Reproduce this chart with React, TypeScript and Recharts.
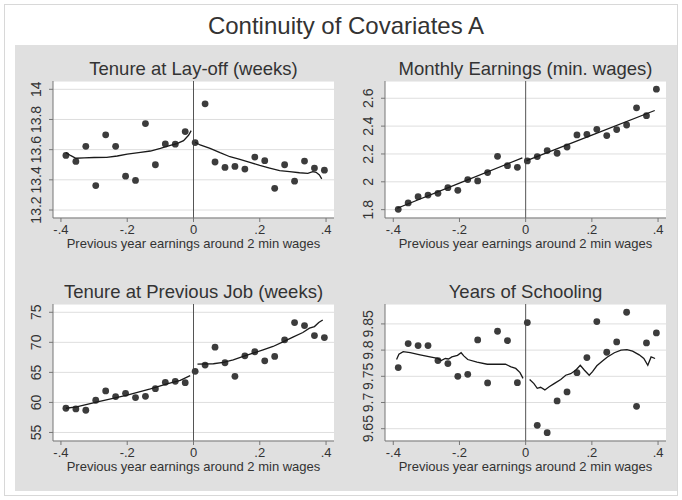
import { ScatterChart, Scatter, XAxis, YAxis, CartesianGrid, ReferenceLine } from 'recharts'

// bin midpoints (previous year earnings, centred on 2 min wages)
const bins = [
  -0.385, -0.355, -0.325, -0.295, -0.265, -0.235, -0.205, -0.175, -0.145, -0.115, -0.085, -0.055, -0.025,
  0.005, 0.035, 0.065, 0.095, 0.125, 0.155, 0.185, 0.215, 0.245, 0.275, 0.305, 0.335, 0.365, 0.395,
]
const xTicks = [-0.4, -0.2, 0, 0.2, 0.4]

const layoffY = [
  13.562, 13.522, 13.622, 13.362, 13.698, 13.622, 13.424, 13.396, 13.773, 13.5, 13.638, 13.636, 13.72,
  13.647, 13.904, 13.518, 13.482, 13.489, 13.471, 13.551, 13.527, 13.344, 13.5, 13.391, 13.524, 13.478, 13.464,
]
const layoffTicks = [13.2, 13.4, 13.6, 13.8, 14]
const layoffFitL = [
  [-0.385, 13.58], [-0.37, 13.56], [-0.355, 13.543], [-0.33, 13.545], [-0.3, 13.548], [-0.262, 13.549],
  [-0.23, 13.558], [-0.2, 13.571], [-0.16, 13.582], [-0.13, 13.591], [-0.1, 13.608], [-0.07, 13.628],
  [-0.05, 13.64], [-0.03, 13.66], [-0.015, 13.695], [-0.007, 13.726],
]
const layoffFitR = [
  [0.005, 13.649], [0.02, 13.631], [0.05, 13.609], [0.08, 13.58], [0.11, 13.553], [0.14, 13.536],
  [0.17, 13.516], [0.2, 13.496], [0.23, 13.478], [0.26, 13.461], [0.29, 13.454], [0.32, 13.447],
  [0.345, 13.443], [0.36, 13.454], [0.37, 13.45], [0.38, 13.432], [0.387, 13.406],
]

const earningsY = [
  1.802, 1.848, 1.893, 1.905, 1.917, 1.958, 1.939, 2.016, 2.006, 2.066, 2.183, 2.116, 2.104,
  2.15, 2.181, 2.224, 2.205, 2.25, 2.337, 2.341, 2.377, 2.332, 2.375, 2.408, 2.531, 2.475, 2.665,
]
const earningsTicks = [1.8, 2, 2.2, 2.4, 2.6]
const earningsFitL = [[-0.388, 1.81], [-0.2, 1.99], [-0.01, 2.172]]
const earningsFitR = [[0.003, 2.152], [0.2, 2.335], [0.39, 2.512]]

const prevJobY = [
  59.03, 58.92, 58.7, 60.36, 61.91, 60.97, 61.52, 60.8, 61.02, 62.29, 63.34, 63.51, 63.29,
  65.17, 66.22, 69.2, 66.6, 64.34, 67.76, 68.43, 66.93, 67.65, 70.41, 73.29, 72.79, 71.13, 70.8,
]
const prevJobTicks = [55, 60, 65, 70, 75]
const prevJobFitL = [
  [-0.385, 59.03], [-0.353, 59.25], [-0.283, 60.19], [-0.203, 61.19], [-0.13, 62.24], [-0.08, 63.07],
  [-0.04, 63.67], [-0.01, 64.45],
]
const prevJobFitR = [
  [0.012, 66.38], [0.06, 66.44], [0.09, 66.66], [0.12, 67.1], [0.15, 67.65], [0.18, 68.2], [0.21, 68.76],
  [0.24, 69.31], [0.27, 70.08], [0.3, 70.86], [0.33, 71.63], [0.35, 72.35], [0.365, 72.62], [0.378, 73.29],
  [0.39, 73.73],
]

const schoolingY = [
  9.7666, 9.8124, 9.8086, 9.8086, 9.78, 9.7742, 9.75, 9.7538, 9.8194, 9.7373, 9.836, 9.8182, 9.7379,
  9.8525, 9.6564, 9.6424, 9.7029, 9.7201, 9.757, 9.7857, 9.8545, 9.7959, 9.8156, 9.8723, 9.6927, 9.8137, 9.8328,
]
const schoolingTicks = [9.65, 9.7, 9.75, 9.8, 9.85]
const schoolingFitL = [
  [-0.39, 9.782], [-0.383, 9.792], [-0.37, 9.797], [-0.349, 9.795], [-0.319, 9.791], [-0.289, 9.787],
  [-0.266, 9.784], [-0.255, 9.78], [-0.243, 9.784], [-0.233, 9.783], [-0.223, 9.787], [-0.206, 9.79],
  [-0.195, 9.795], [-0.187, 9.789], [-0.175, 9.782], [-0.147, 9.777], [-0.116, 9.773], [-0.096, 9.773],
  [-0.076, 9.773], [-0.061, 9.773], [-0.044, 9.768], [-0.03, 9.765], [-0.017, 9.757], [-0.008, 9.746],
]
const schoolingFitR = [
  [0.012, 9.744], [0.025, 9.736], [0.035, 9.727], [0.045, 9.729], [0.058, 9.724], [0.071, 9.73],
  [0.086, 9.736], [0.106, 9.744], [0.121, 9.752], [0.136, 9.755], [0.152, 9.762], [0.165, 9.771],
  [0.177, 9.762], [0.192, 9.752], [0.202, 9.759], [0.215, 9.77], [0.232, 9.779], [0.247, 9.787],
  [0.268, 9.795], [0.288, 9.8], [0.306, 9.801], [0.323, 9.798], [0.343, 9.791], [0.357, 9.784],
  [0.369, 9.771], [0.379, 9.787], [0.391, 9.784],
]

const FONT = '"Liberation Sans", Arial, Helvetica, sans-serif'
const TEXT = '#333'
const YW = 40

const fmtX = (v: number) => (v === 0 ? '0' : String(v).replace('0.', '.'))
const toPts = (arr: number[][]) => arr.map(([x, y]) => ({ x, y }))

function YTick(props: any) {
  const { x, y, payload } = props
  const tx = x - 8
  return (
    <text x={tx} y={y} transform={`rotate(-90, ${tx}, ${y})`} textAnchor="middle" fontSize={14} fill={TEXT} fontFamily={FONT}>
      {String(payload.value)}
    </text>
  )
}

const Dot = (props: any) => <circle cx={props.cx} cy={props.cy} r={3.4} fill="#3c3c3c" />
const NoDot = () => <g />

interface PanelProps {
  title: string
  left: number
  top: number
  w: number
  h: number
  xDomain: number[]
  yDomain: number[]
  yTicks: number[]
  ys: number[]
  fitL: number[][]
  fitR: number[][]
}

function Panel({ title, left, top, w, h, xDomain, yDomain, yTicks, ys, fitL, fitR }: PanelProps) {
  const dots = bins.map((x, i) => ({ x, y: ys[i] }))
  return (
    <>
      <div style={{ position: 'absolute', left, top: top - 20.7, width: w, textAlign: 'center', fontSize: 18.5, lineHeight: '18.5px', color: TEXT, whiteSpace: 'nowrap' }}>
        {title}
      </div>
      <div style={{ position: 'absolute', left: left - YW, top, width: w + YW, height: h + 30 }}>
        <ScatterChart width={w + YW} height={h + 30} margin={{ top: 0, right: 0, bottom: 0, left: 0 }}>
          <CartesianGrid vertical={false} stroke="#dedede" fill="#ffffff" fillOpacity={1} />
          <XAxis
            type="number"
            dataKey="x"
            domain={xDomain}
            ticks={xTicks}
            interval={0}
            allowDataOverflow
            height={30}
            tickFormatter={fmtX}
            tickSize={4}
            tickMargin={3}
            stroke="#777"
            tick={{ fontSize: 13, fill: TEXT, fontFamily: FONT }}
          />
          <YAxis
            type="number"
            dataKey="y"
            domain={yDomain}
            ticks={yTicks}
            interval={0}
            allowDataOverflow
            width={YW}
            tickSize={4}
            tickMargin={0}
            stroke="#777"
            tick={<YTick />}
          />
          <ReferenceLine x={0} stroke="#555" strokeWidth={1} />
          <Scatter data={dots} shape={<Dot />} isAnimationActive={false} />
          <Scatter data={toPts(fitL)} line={{ stroke: '#1a1a1a', strokeWidth: 1.3 }} lineType="joint" shape={<NoDot />} isAnimationActive={false} />
          <Scatter data={toPts(fitR)} line={{ stroke: '#1a1a1a', strokeWidth: 1.3 }} lineType="joint" shape={<NoDot />} isAnimationActive={false} />
        </ScatterChart>
      </div>
      <div style={{ position: 'absolute', left, top: h + top + 19.3, width: w, textAlign: 'center', fontSize: 13, lineHeight: '13px', color: TEXT, whiteSpace: 'nowrap' }}>
        Previous year earnings around 2 min wages
      </div>
    </>
  )
}

export default function App() {
  return (
    <div style={{ position: 'absolute', left: 0, top: 0, width: 682, height: 500, background: '#fff', fontFamily: FONT, overflow: 'hidden' }}>
      <div style={{ position: 'absolute', left: 4, top: 4, width: 674, height: 492, border: '1px solid #d8d8d8', boxSizing: 'border-box' }} />
      <div style={{ position: 'absolute', left: 15, top: 45, width: 662, height: 446, background: '#e0e0e0' }} />
      <div style={{ position: 'absolute', left: 15, top: 14, width: 662, textAlign: 'center', fontSize: 24, lineHeight: '24px', color: TEXT, whiteSpace: 'nowrap' }}>
        Continuity of Covariates A
      </div>
      <Panel title="Tenure at Lay-off (weeks)" left={53} top={81} w={281} h={137}
        xDomain={[-0.424, 0.424]} yDomain={[13.147, 14.055]} yTicks={layoffTicks}
        ys={layoffY} fitL={layoffFitL} fitR={layoffFitR} />
      <Panel title="Monthly Earnings (min. wages)" left={385} top={81} w={281} h={137}
        xDomain={[-0.425, 0.424]} yDomain={[1.74, 2.724]} yTicks={earningsTicks}
        ys={earningsY} fitL={earningsFitL} fitR={earningsFitR} />
      <Panel title="Tenure at Previous Job (weeks)" left={53} top={304} w={281} h={137}
        xDomain={[-0.424, 0.424]} yDomain={[53.58, 76.38]} yTicks={prevJobTicks}
        ys={prevJobY} fitL={prevJobFitL} fitR={prevJobFitR} />
      <Panel title="Years of Schooling" left={385} top={304} w={281} h={137}
        xDomain={[-0.425, 0.424]} yDomain={[9.6265, 9.888]} yTicks={schoolingTicks}
        ys={schoolingY} fitL={schoolingFitL} fitR={schoolingFitR} />
    </div>
  )
}
